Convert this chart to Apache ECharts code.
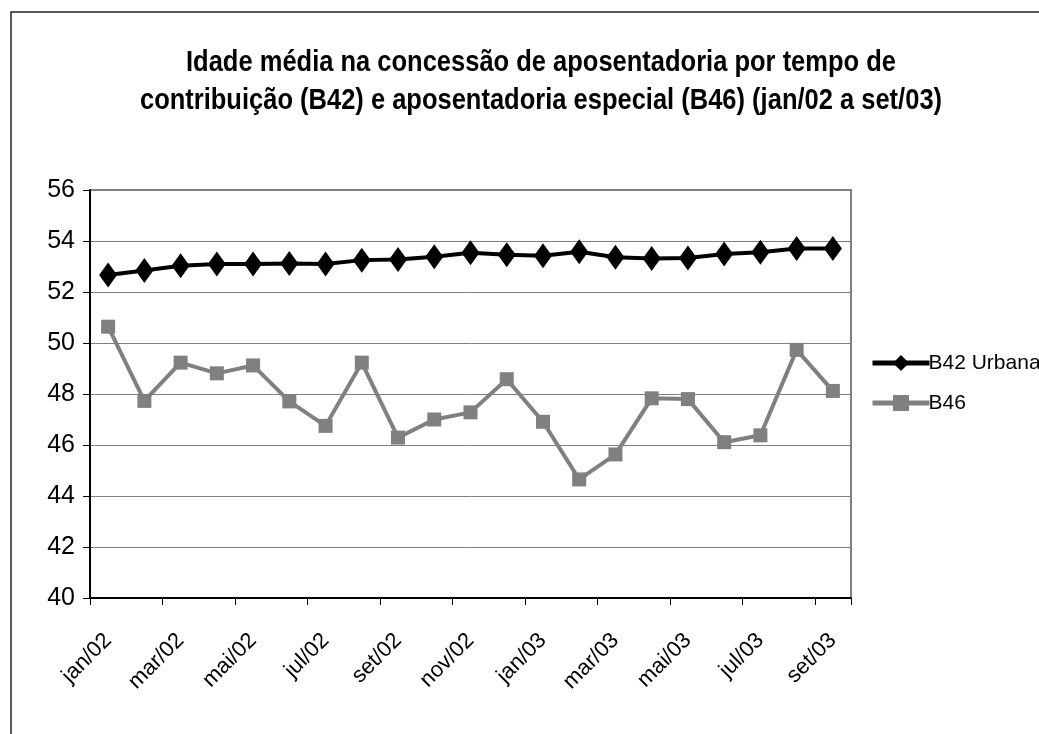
<!DOCTYPE html>
<html><head><meta charset="utf-8">
<script src="https://cdn.jsdelivr.net/npm/echarts@6/dist/echarts.min.js"></script>
<style>html,body{margin:0;padding:0;background:#fff}#c{width:1039px;height:734px}</style>
</head><body><div id="c"></div>
<script>
const categories = ['jan/02','fev/02','mar/02','abr/02','mai/02','jun/02','jul/02','ago/02','set/02','out/02','nov/02','dez/02','jan/03','fev/03','mar/03','abr/03','mai/03','jun/03','jul/03','ago/03','set/03'];
const b42 = [52.67,52.84,53.03,53.10,53.10,53.12,53.10,53.25,53.27,53.38,53.54,53.46,53.42,53.58,53.36,53.31,53.33,53.49,53.56,53.71,53.71];
const b46 = [50.64,47.73,49.23,48.81,49.12,47.71,46.75,49.23,46.29,47.00,47.28,48.58,46.91,44.65,45.63,47.83,47.80,46.11,46.38,49.73,48.12];
const yTicks = {min:40, max:56, interval:2};
const titleText = 'Idade média na concessão de aposentadoria por tempo de\ncontribuição (B42) e aposentadoria especial (B46) (jan/02 a set/03)';
const FONT = '"Liberation Sans", Arial, sans-serif';

const chart = echarts.init(document.getElementById('c'), null, {renderer:'canvas'});
chart.setOption({
  animation:false,
  backgroundColor:'#fff',
  graphic:[
    {type:'rect', shape:{x:11,y:12,width:1200,height:900}, style:{fill:'none', stroke:'#222', lineWidth:1.5}, z:-1},
    {type:'text', x:541, y:44, scaleX:0.85, z:10,
      style:{text:titleText, fontFamily:FONT, fontWeight:'bold', fontSize:30, lineHeight:38,
        fill:'#000', align:'center', verticalAlign:'top'}}
  ],
  legend:{orient:'vertical', left:865, top:347, itemWidth:57, itemHeight:20, itemGap:18,
    lineStyle:{width:5},
    textStyle:{fontFamily:FONT, fontSize:21, lineHeight:22, color:'#000', padding:[0,0,0,-6]},
    data:[{name:'B42 Urbana', lineStyle:{width:5, color:'#000'}}, {name:'B46', lineStyle:{width:5, color:'#808080'}}]},
  grid:{left:90, right:188, top:190, bottom:136, show:true, borderColor:'#808080', borderWidth:2},
  xAxis:{type:'category', data:categories, boundaryGap:true,
    axisLine:{lineStyle:{color:'#000', width:2}},
    axisTick:{show:true, interval:1, length:7, lineStyle:{color:'#000', width:1}},
    axisLabel:{interval:1, rotate:45, fontFamily:FONT, fontSize:22, color:'#000', margin:39},
    splitLine:{show:false}},
  yAxis:{type:'value', min:yTicks.min, max:yTicks.max, interval:yTicks.interval,
    axisLine:{show:true, lineStyle:{color:'#000', width:2}},
    axisTick:{show:true, length:7, lineStyle:{color:'#000'}},
    axisLabel:{fontFamily:FONT, fontSize:25, color:'#000', margin:15},
    splitLine:{lineStyle:{color:'#808080', width:1}}},
  series:[
    {name:'B42 Urbana', type:'line', data:b42, symbol:'diamond', symbolSize:[18,25], showAllSymbol:true,
      lineStyle:{color:'#000', width:4}, itemStyle:{color:'#000'}},
    {name:'B46', type:'line', data:b46, symbol:'rect', symbolSize:14, showAllSymbol:true,
      lineStyle:{color:'#808080', width:4}, itemStyle:{color:'#808080'}}
  ]
});
</script></body></html>
